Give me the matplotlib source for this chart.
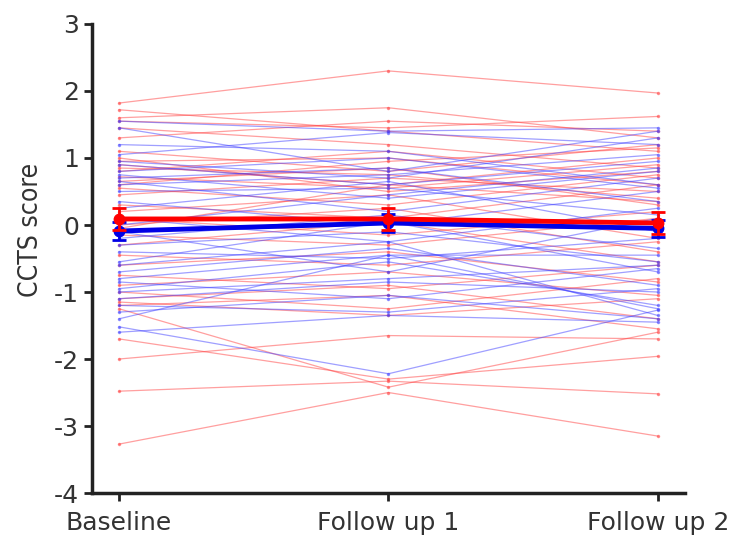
import matplotlib.pyplot as plt
import numpy as np

plt.rcParams['axes.unicode_minus'] = False

# time points
timepoints = ['Baseline', 'Follow up 1', 'Follow up 2']

# individual trajectories (baseline, follow up 1, follow up 2)
red_subjects = [
    [1.82, 2.30, 1.97], [1.72, 1.40, 1.10], [1.60, 1.75, 1.30], [1.55, 1.45, 1.62],
    [1.45, 1.20, 0.85], [1.30, 1.55, 1.40], [1.10, 0.80, 1.20], [0.95, 1.00, 0.60],
    [0.90, 0.60, 1.00], [0.85, 0.75, 0.40], [0.80, 1.10, 0.70], [0.72, 0.55, 0.90],
    [0.65, 0.85, 0.30], [0.55, 0.30, 0.75], [0.45, 0.70, 0.50], [0.30, 0.10, 0.60],
    [0.20, 0.45, -0.20], [0.10, -0.15, 0.20], [0.00, 0.25, -0.40], [-0.15, -0.30, 0.10],
    [-0.30, 0.05, -0.55], [-0.45, -0.60, -0.25], [-0.60, -0.40, -0.85], [-0.75, -0.95, -0.60],
    [-0.90, -0.70, -1.05], [-1.00, -1.25, -0.80], [-1.10, -0.90, -1.40], [-1.15, -1.35, -1.10],
    [-1.20, -1.05, -1.55], [-1.25, -2.42, -1.60], [-2.00, -1.65, -1.70], [-2.48, -2.33, -2.52],
    [-3.27, -2.50, -3.15], [-1.70, -2.30, -1.96], [0.60, 0.95, 1.15], [1.00, 0.50, 0.80],
    [-0.05, 0.60, 0.35],
]
blue_subjects = [
    [1.55, 1.40, 1.45], [1.45, 0.80, 1.40], [1.05, 1.38, 1.20], [0.95, 0.70, 1.30],
    [0.90, 0.60, 0.95], [0.80, 1.00, 0.55], [0.75, 0.40, 0.80], [0.70, 0.85, 0.35],
    [0.65, 0.20, 0.70], [0.60, 0.75, 1.05], [0.50, 0.55, 0.15], [0.35, 0.00, 0.50],
    [0.25, 0.65, -0.10], [0.10, -0.25, 0.25], [-0.20, 0.15, -0.35], [-0.30, -0.10, -0.55],
    [-0.40, -0.50, -0.20], [-0.55, 0.05, -0.70], [-0.70, -0.35, -0.90], [-0.80, -0.45, -0.45],
    [-0.95, -0.55, -1.20], [-1.00, -0.80, -0.60], [-1.10, -0.85, -1.00], [-1.20, -1.30, -0.95],
    [-1.30, -1.05, -1.40], [-1.40, -0.45, -1.25], [-1.52, -2.22, -1.27], [-1.60, -1.35, -1.45],
    [-0.85, -1.10, -0.65], [0.00, 0.45, 0.85], [-0.10, -0.70, 0.10], [1.20, 1.10, 0.60],
    [-0.60, -0.25, -1.35],
]

# group means and error bars
red_mean = [0.09, 0.09, 0.03]
red_err = [0.17, 0.17, 0.17]
blue_mean = [-0.09, 0.03, -0.05]
blue_err = [0.13, 0.13, 0.13]

x = np.arange(len(timepoints))
text_color = '#333333'

fig = plt.figure(figsize=(7.37, 5.39), dpi=100)
ax = fig.add_axes([0.125, 0.0853, 0.804, 0.8702])

for s in red_subjects:
    ax.plot(x, s, color='#ff4040', alpha=0.5, lw=0.9, marker='.', ms=3)
for s in blue_subjects:
    ax.plot(x, s, color='#4040ff', alpha=0.5, lw=0.9, marker='.', ms=3)

ax.errorbar(x, blue_mean, yerr=blue_err, color='#0000e6', lw=3.5, marker='o', ms=7.5,
            capsize=5, capthick=2, elinewidth=2, zorder=5)
ax.errorbar(x, red_mean, yerr=red_err, color='#ff0000', lw=3.5, marker='o', ms=7.5,
            capsize=5, capthick=2, elinewidth=2, zorder=6)

ax.set_xlim(-0.1, 2.1)
ax.set_ylim(-4, 3)
ax.set_xticks(x)
ax.set_xticklabels(timepoints, fontsize=20.5)
ax.set_yticks(np.arange(-4, 4))
ax.set_ylabel('CCTS score', fontsize=19, color=text_color, fontstretch='condensed')
ax.yaxis.set_label_coords(-0.082, 0.56)

for side in ['top', 'right']:
    ax.spines[side].set_visible(False)
for side in ['left', 'bottom']:
    ax.spines[side].set_linewidth(2.5)
    ax.spines[side].set_color('#222222')
ax.tick_params(axis='both', labelsize=18, width=2, length=6, colors='#222222',
               labelcolor=text_color, direction='out')
ax.tick_params(axis='x', pad=7)

fig.savefig('out.png', dpi=100)
